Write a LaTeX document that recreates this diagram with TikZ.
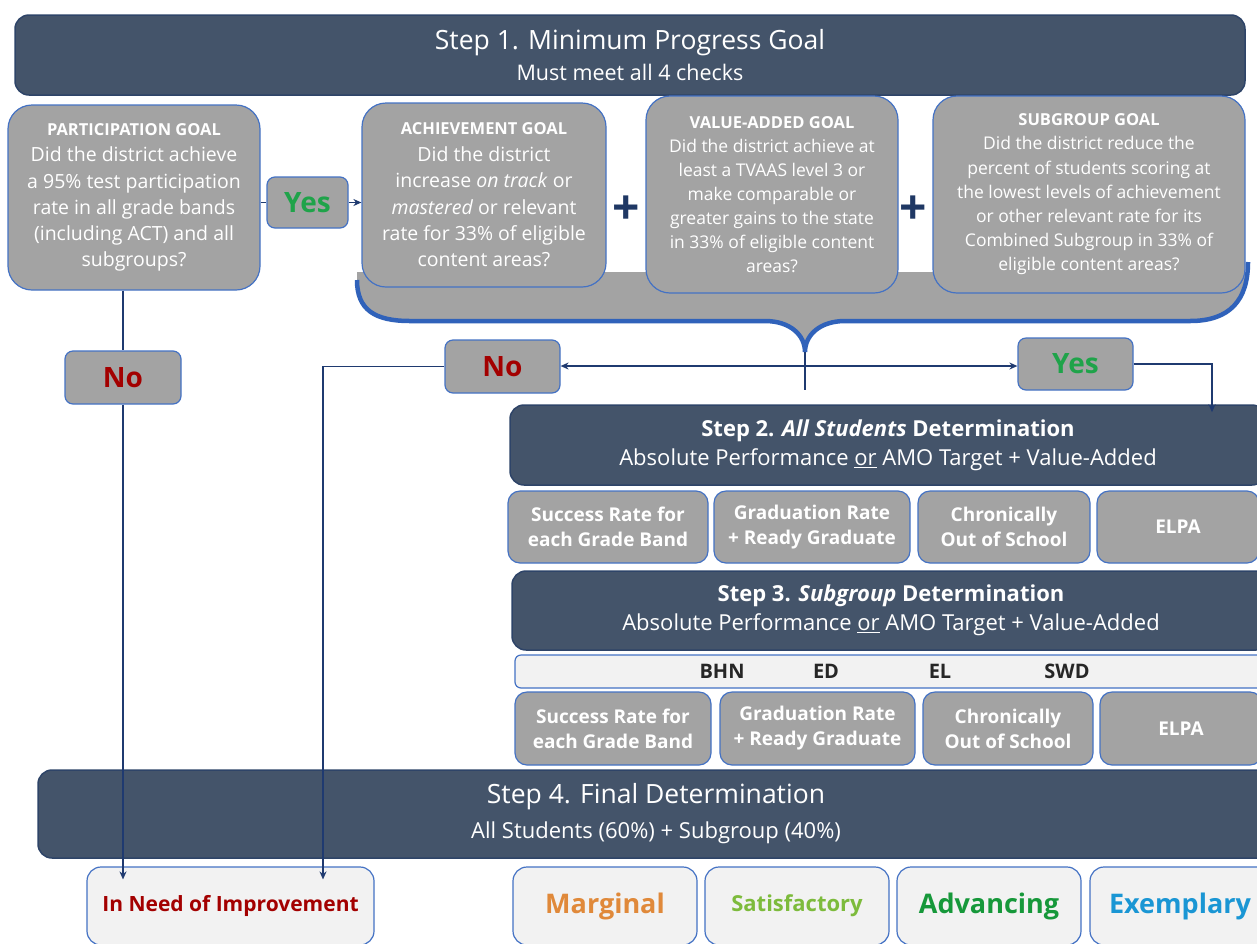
\documentclass[tikz,border=0pt]{standalone}
\usepackage{fontspec}
\setmainfont{Open Sans}
\usetikzlibrary{arrows.meta,calc}
\definecolor{banner}{HTML}{44546A}
\definecolor{bannerline}{HTML}{2E4468}
\definecolor{boxgray}{HTML}{A3A3A3}
\definecolor{boxline}{HTML}{4472C4}
\definecolor{braceline}{HTML}{3062BA}
\definecolor{lightfill}{HTML}{F2F2F2}
\definecolor{arrowc}{HTML}{1F3A70}
\definecolor{yesgreen}{HTML}{1FA34A}
\definecolor{nored}{HTML}{A30000}
\definecolor{plusc}{HTML}{1F3864}
\definecolor{margc}{HTML}{E0893A}
\definecolor{satisc}{HTML}{7DBB3C}
\definecolor{advc}{HTML}{16983A}
\definecolor{exemc}{HTML}{1A96D4}
\definecolor{barlabel}{HTML}{262626}
\newcommand\fs[2]{\fontsize{#1}{#2}\selectfont}
\tikzset{
  bannerbox/.style={draw=bannerline, line width=1.5pt, fill=banner, rounded corners=14pt, text=white, align=center, inner sep=0pt},
  goalbox/.style={draw=boxline, line width=1.2pt, fill=boxgray, rounded corners=24pt, text=white, align=center, inner sep=0pt},
  ynbox/.style={draw=boxline, line width=1.2pt, fill=boxgray, rounded corners=8pt, inner sep=0pt, font=\bfseries\fs{28}{30}},
  cellbox/.style={draw=boxline, line width=1.2pt, fill=boxgray, rounded corners=12pt, text=white, align=center, inner sep=0pt, font=\bfseries\fs{19}{25}},
  resultbox/.style={draw=boxline, line width=1.2pt, fill=lightfill, rounded corners=14pt, inner sep=0pt, font=\bfseries},
  barlab/.style={font=\bfseries\fs{20}{22}, text=barlabel, inner sep=0pt},
  plussign/.style={font=\bfseries\fs{48}{48}, text=plusc, inner sep=0pt},
  conn/.style={draw=arrowc, line width=1.6pt},
  arr/.style={conn, -{Stealth[length=8pt,width=7pt]}}
}
\begin{document}
\begin{tikzpicture}[x=1pt,y=-1pt]
\useasboundingbox (0,0) rectangle (1257,943);
\clip (0,0) rectangle (1257,943);
\fill[white] (0,0) rectangle (1257,943);

% Step 1 banner
\node[bannerbox, minimum width=1230pt, minimum height=80pt, font=\fs{22}{31}] (step1) at (630,55)
  {{\fs{26.5}{31}Step 1. Minimum Progress Goal}\\{\fs{21.5}{31}Must meet all 4 checks}};

% brace region
\fill[boxgray] (357,272) -- (357,282) .. controls (357,310) and (375,321) .. (410,321)
  -- (765,321) .. controls (790,321) and (805,335) .. (805,352)
  .. controls (805,335) and (820,321) .. (845,321)
  -- (1190,321) .. controls (1230,321) and (1248,300) .. (1248,262) -- (1248,272) -- cycle;
\draw[braceline, line width=4.5pt] (357,280) .. controls (357,310) and (375,321) .. (410,321)
  -- (765,321) .. controls (790,321) and (805,335) .. (805,352)
  .. controls (805,335) and (820,321) .. (845,321)
  -- (1190,321) .. controls (1230,321) and (1248,300) .. (1248,262);
\coordinate (tip) at (805,352);

% goal boxes
\node[goalbox, minimum width=252pt, minimum height=185pt, font=\fs{19.5}{26.2}] (part) at (134,197.5)
  {{\fs{16.5}{26}\bfseries PARTICIPATION GOAL}\\Did the district achieve\\a 95\% test participation\\rate in all grade bands\\(including ACT) and all\\subgroups?};
\node[goalbox, minimum width=244pt, minimum height=184pt, font=\fs{19.5}{26.4}] (ach) at (484,195)
  {{\fs{16.5}{26}\bfseries ACHIEVEMENT GOAL}\\Did the district\\increase \textit{on track} or\\\textit{mastered} or relevant\\rate for 33\% of eligible\\content areas?};
\node[goalbox, minimum width=252pt, minimum height=197pt, font=\fs{17.5}{24}] (val) at (772,194.5)
  {{\fs{16.5}{24}\bfseries VALUE-ADDED GOAL}\\Did the district achieve at\\least a TVAAS level 3 or\\make comparable or\\greater gains to the state\\in 33\% of eligible content\\areas?};
\node[goalbox, minimum width=312pt, minimum height=197pt, font=\fs{17.5}{24.2}] (sub) at (1089,194.5)
  {{\fs{16.5}{24}\bfseries SUBGROUP GOAL}\\Did the district reduce the\\percent of students scoring at\\the lowest levels of achievement\\or other relevant rate for its\\Combined Subgroup in 33\% of\\eligible content areas?};

\node[plussign] (plus1) at (626,210) {+};
\node[plussign] (plus2) at (913,210) {+};

% yes / no boxes
\node[ynbox, minimum width=81pt, minimum height=51pt, text=yesgreen] (yes1) at (307.5,202.5) {Yes};
\node[ynbox, minimum width=116pt, minimum height=53pt, text=nored] (no1) at (123,377.5) {No};
\node[ynbox, minimum width=115pt, minimum height=53pt, text=nored] (no2) at (502.5,366.5) {No};
\node[ynbox, minimum width=115pt, minimum height=52pt, text=yesgreen] (yes2) at (1075.5,364) {Yes};

% Step 2
\node[bannerbox, minimum width=756pt, minimum height=80pt, font=\fs{22}{29}] (step2) at (888,445)
  {{\bfseries Step 2. \textit{All Students} Determination}\\Absolute Performance \underline{or} AMO Target + Value-Added};
\node[cellbox, minimum width=200pt, minimum height=72pt] (c21) at (608,527) {Success Rate for\\each Grade Band};
\node[cellbox, minimum width=196pt, minimum height=72pt] (c22) at (812,527) {Graduation Rate\\+ Ready Graduate};
\node[cellbox, minimum width=172pt, minimum height=72pt] (c23) at (1004,527) {Chronically\\Out of School};
\node[cellbox, minimum width=162pt, minimum height=72pt] (c24) at (1178,527) {ELPA};

% Step 3
\node[bannerbox, minimum width=758pt, minimum height=79pt, font=\fs{22}{29}] (step3) at (891,610.5)
  {{\bfseries Step 3. \textit{Subgroup} Determination}\\Absolute Performance \underline{or} AMO Target + Value-Added};
\node[draw=boxline, line width=1.2pt, fill=lightfill, rounded corners=6pt, minimum width=752pt, minimum height=33pt, inner sep=0pt] (bar) at (891,671.5) {};
\node[barlab] (bhn) at (722,671) {BHN};
\node[barlab] (ed) at (826,671) {ED};
\node[barlab] (el) at (940,671) {EL};
\node[barlab] (swd) at (1067,671) {SWD};
\node[cellbox, minimum width=196pt, minimum height=73pt] (c31) at (613,728.5) {Success Rate for\\each Grade Band};
\node[cellbox, minimum width=195pt, minimum height=73pt] (c32) at (817.5,728.5) {Graduation Rate\\+ Ready Graduate};
\node[cellbox, minimum width=170pt, minimum height=73pt] (c33) at (1008,728.5) {Chronically\\Out of School};
\node[cellbox, minimum width=162pt, minimum height=73pt] (c34) at (1181,728.5) {ELPA};

% Step 4
\node[bannerbox, minimum width=1236pt, minimum height=88pt, font=\fs{22}{35}] (step4) at (656,814)
  {{\fs{26.5}{35}Step 4. Final Determination}\\{\fs{22}{35}All Students (60\%) + Subgroup (40\%)}};

% results
\node[resultbox, minimum width=287pt, minimum height=78pt, text=nored, font=\bfseries\fs{21}{24}] (inneed) at (230.5,906) {In Need of Improvement};
\node[resultbox, minimum width=184pt, minimum height=78pt, text=margc, font=\bfseries\fs{27}{30}] (marg) at (605,906) {Marginal};
\node[resultbox, minimum width=184pt, minimum height=78pt, text=satisc, font=\bfseries\fs{22}{25}] (satis) at (797,906) {Satisfactory};
\node[resultbox, minimum width=184pt, minimum height=78pt, text=advc, font=\bfseries\fs{27}{30}] (adv) at (989,906) {Advancing};
\node[resultbox, minimum width=180pt, minimum height=78pt, text=exemc, font=\bfseries\fs{27}{30}] (exem) at (1180,906) {\raisebox{3pt}{Exemplary}};

% connectors
\draw[conn] (yes1.west -| part.east) -- (yes1.west);
\draw[arr] (yes1.east) -- (yes1.east -| ach.west);
\draw[conn] (no1.north |- part.south) -- (no1.north);
\draw[arr] (no1.south) -- ([yshift=-13pt]no1.south |- inneed.north);
\coordinate (junc) at (805,390);
\coordinate (mid) at (805,366);
\draw[conn] (tip) -- (junc);
\draw[arr] (mid) -- (mid -| no2.east);
\draw[arr] (mid) -- (mid -| yes2.west);
\coordinate (ycol) at (1212,0);
\draw[arr] (yes2.east) -| ([yshift=-8pt]ycol |- step2.north);
\coordinate (ncol) at (323,0);
\draw[arr] (no2.west) -| ([yshift=-13pt]ncol |- inneed.north);
\end{tikzpicture}
\end{document}
